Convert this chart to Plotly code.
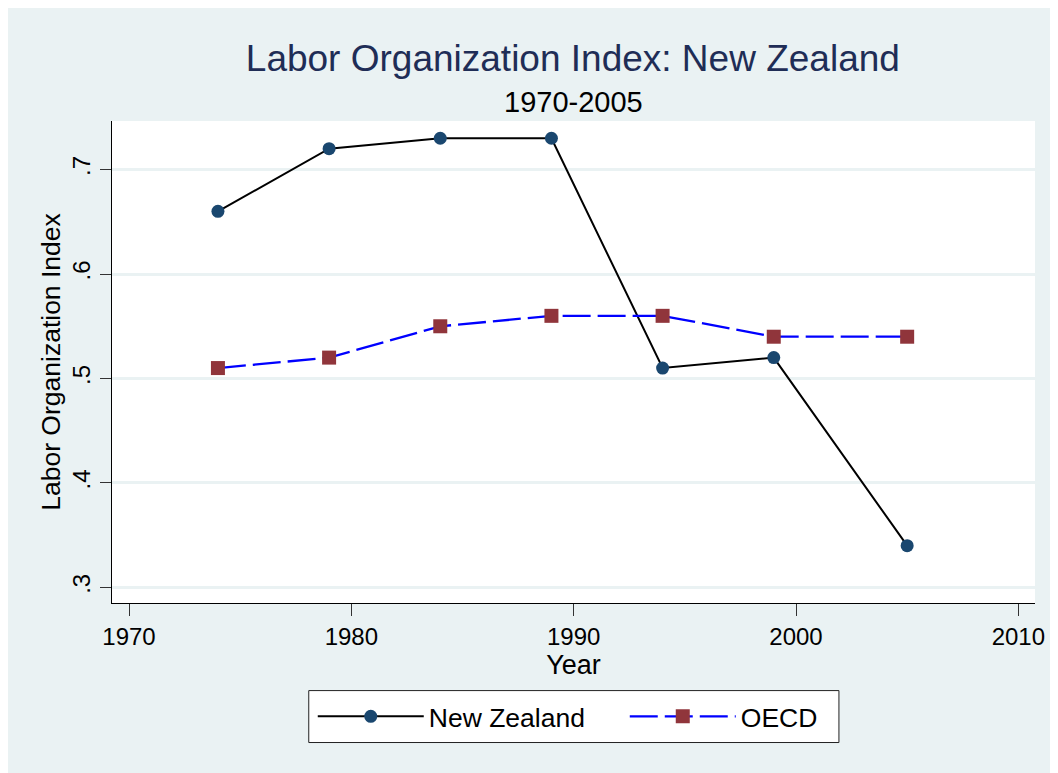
import plotly.graph_objects as go

years = [1974, 1979, 1984, 1989, 1994, 1999, 2005]
new_zealand = [0.66, 0.72, 0.73, 0.73, 0.51, 0.52, 0.34]
oecd = [0.51, 0.52, 0.55, 0.56, 0.56, 0.54, 0.54]

x_ticks = [1970, 1980, 1990, 2000, 2010]
y_ticks = [0.3, 0.4, 0.5, 0.6, 0.7]
y_tick_labels = [".3", ".4", ".5", ".6", ".7"]

W, H = 1058, 773
L, R, T, B = 104.3, 31, 112.7, 177.7
pw, ph = W - L - R, H - T - B

def px(x):
    return (x - L) / pw

def py(y):
    return (H - B - y) / ph

BG = "#EAF2F3"
FONT = "Liberation Sans, Arial, sans-serif"

fig = go.Figure()
fig.add_trace(go.Scatter(
    x=years, y=new_zealand, name="New Zealand", mode="lines+markers",
    line=dict(color="black", width=2),
    marker=dict(symbol="circle", size=13, color="#1A476F", line=dict(width=0)),
))
fig.add_trace(go.Scatter(
    x=years, y=oecd, name="OECD", mode="lines+markers",
    line=dict(color="#0000FF", width=2.3, dash="28px,7px"),
    marker=dict(symbol="square", size=14, color="#90353B", line=dict(width=0)),
))

fig.update_layout(
    width=W, height=H,
    margin=dict(l=L, r=R, t=T, b=B, autoexpand=False),
    paper_bgcolor=BG,
    plot_bgcolor="white",
    font=dict(family=FONT, color="black"),
    title=dict(
        text="Labor Organization Index: New Zealand",
        font=dict(size=37, color="#1F2D56", family=FONT),
        x=px(565), xanchor="center", xref="paper",
        y=1 - 50 / H, yanchor="middle", yref="container",
    ),
    showlegend=True,
    legend=dict(
        orientation="h",
        x=px(305), xanchor="left",
        y=py(709), yanchor="middle",
        bgcolor="rgba(0,0,0,0)", borderwidth=0,
        font=dict(size=26.5, family=FONT, color="black"),
        itemwidth=106,
        entrywidth=191, entrywidthmode="pixels",
        itemsizing="trace",
    ),
    xaxis=dict(
        range=[1969.235, 2010.75],
        tickmode="array", tickvals=x_ticks,
        ticks="outside", ticklen=12, tickwidth=1, tickcolor="#333333",
        showline=True, linecolor="black", linewidth=1,
        showgrid=False, zeroline=False,
        tickfont=dict(size=24, family=FONT, color="black"),
        title=dict(text="Year", font=dict(size=27, family=FONT, color="black"), standoff=0),
    ),
    yaxis=dict(
        range=[0.2851, 0.7465],
        tickmode="array", tickvals=y_ticks, ticktext=y_tick_labels,
        tickangle=-90,
        ticks="outside", ticklen=11, tickwidth=1, tickcolor="#333333",
        showline=True, linecolor="black", linewidth=1,
        showgrid=True, gridcolor=BG, gridwidth=2.5,
        zeroline=False,
        tickfont=dict(size=24, family=FONT, color="black"),
        title=dict(text="Labor Organization Index", font=dict(size=26.5, family=FONT, color="black"), standoff=0),
    ),
    shapes=[dict(
        type="rect", xref="paper", yref="paper",
        x0=px(301), x1=px(831), y0=py(735), y1=py(683),
        fillcolor="white", line=dict(width=1, color="#222222"), layer="below",
    )],
    annotations=[dict(
        text="1970-2005", xref="paper", yref="paper",
        x=px(566), y=py(94), xanchor="center", yanchor="middle",
        showarrow=False, font=dict(size=29, family=FONT, color="black"),
    )],
)

fig.write_html("out.html")
